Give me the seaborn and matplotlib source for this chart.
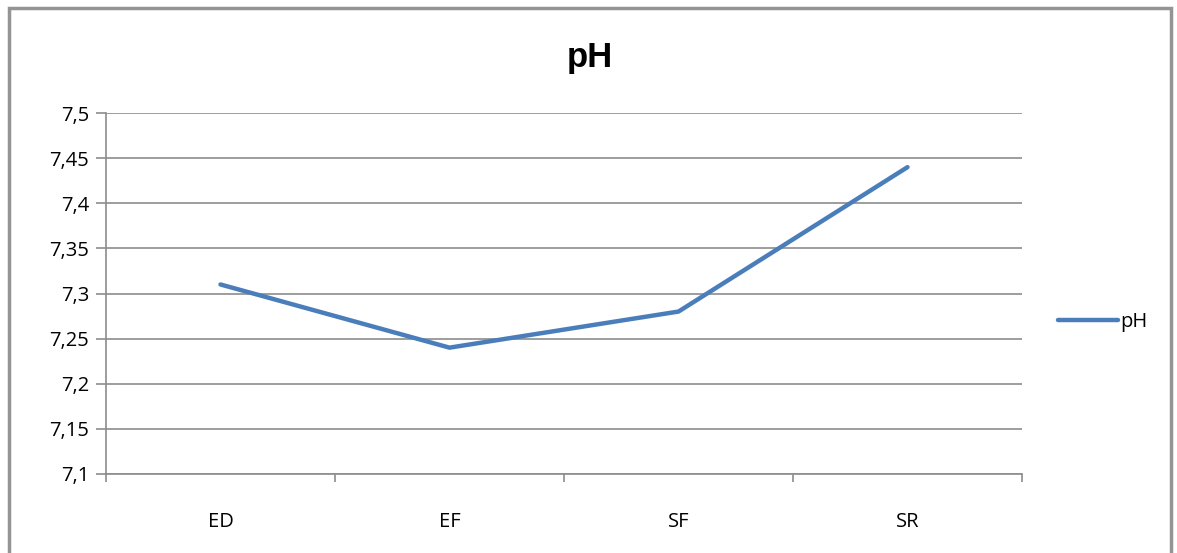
import matplotlib
matplotlib.use("Agg")
import matplotlib.pyplot as plt
from matplotlib.ticker import FuncFormatter, FixedLocator
from matplotlib.patches import Rectangle
import seaborn as sns
import pandas as pd
import numpy as np

### Data
categories = ["ED", "EF", "SF", "SR"]
ph_values = [7.31, 7.24, 7.28, 7.44]
y_ticks = [7.1, 7.15, 7.2, 7.25, 7.3, 7.35, 7.4, 7.45, 7.5]

sns.set_style("white")
plt.rcParams['font.family'] = ['Open Sans', 'DejaVu Sans']

df = pd.DataFrame({"pos": np.arange(len(categories)), "pH": ph_values})

W, H = 1177, 553
fig = plt.figure(figsize=(W / 100, H / 100), dpi=100)
# outer chart frame
fig.patches.append(Rectangle((9 / W, -0.05), (1171 - 9) / W, 1.05 - 8 / H, transform=fig.transFigure,
                             fill=False, edgecolor="#949494", linewidth=2.5))
ax = fig.add_axes([106 / W, 1 - 474 / H, (1022 - 106) / W, (474 - 113) / H])

sns.lineplot(data=df, x="pos", y="pH", ax=ax, color="#4A7EBB", linewidth=3.2, label="pH", legend=False)

ax.set_xlim(-0.5, len(categories) - 0.5)
ax.set_ylim(7.1, 7.5)
ax.yaxis.set_major_locator(FixedLocator(y_ticks))
ax.yaxis.set_major_formatter(FuncFormatter(lambda v, p: f"{v:g}".replace(".", ",")))
ax.grid(axis="y", color="#8c8c8c", linewidth=1.2)
ax.set_axisbelow(True)

ax.set_xticks(np.arange(len(categories)))
ax.set_xticklabels(categories)
ax.set_xticks(np.arange(len(categories) + 1) - 0.5, minor=True)
ax.tick_params(axis="x", which="major", bottom=False, pad=24, labelsize=14.5, labelcolor="#000000")
ax.tick_params(axis="x", which="minor", bottom=True, length=6, width=1.2, color="#8c8c8c", direction="out")
ax.tick_params(axis="y", which="major", left=True, length=7, width=1.2, color="#8c8c8c", direction="out",
               labelsize=14.5, labelcolor="#000000", pad=5)
ax.set_xlabel("")
ax.set_ylabel("")

for side in ["top", "right"]:
    ax.spines[side].set_visible(False)
for side in ["left", "bottom"]:
    ax.spines[side].set_color("#8c8c8c")
    ax.spines[side].set_linewidth(1.2)

fig.text(590 / W, 1 - 58 / H, "pH", ha="center", va="center", fontsize=25, fontweight="bold",
         family=["Liberation Sans", "DejaVu Sans"], color="#000000")

handles, labels = ax.get_legend_handles_labels()
fig.legend(handles, labels, loc="center left", bbox_to_anchor=(1058 / W, 1 - 322 / H), frameon=False,
           fontsize=14.5, handlelength=3.0, handletextpad=0.1, borderaxespad=0, borderpad=0,
           labelcolor="#000000")

fig.savefig("out.png", dpi=100)
